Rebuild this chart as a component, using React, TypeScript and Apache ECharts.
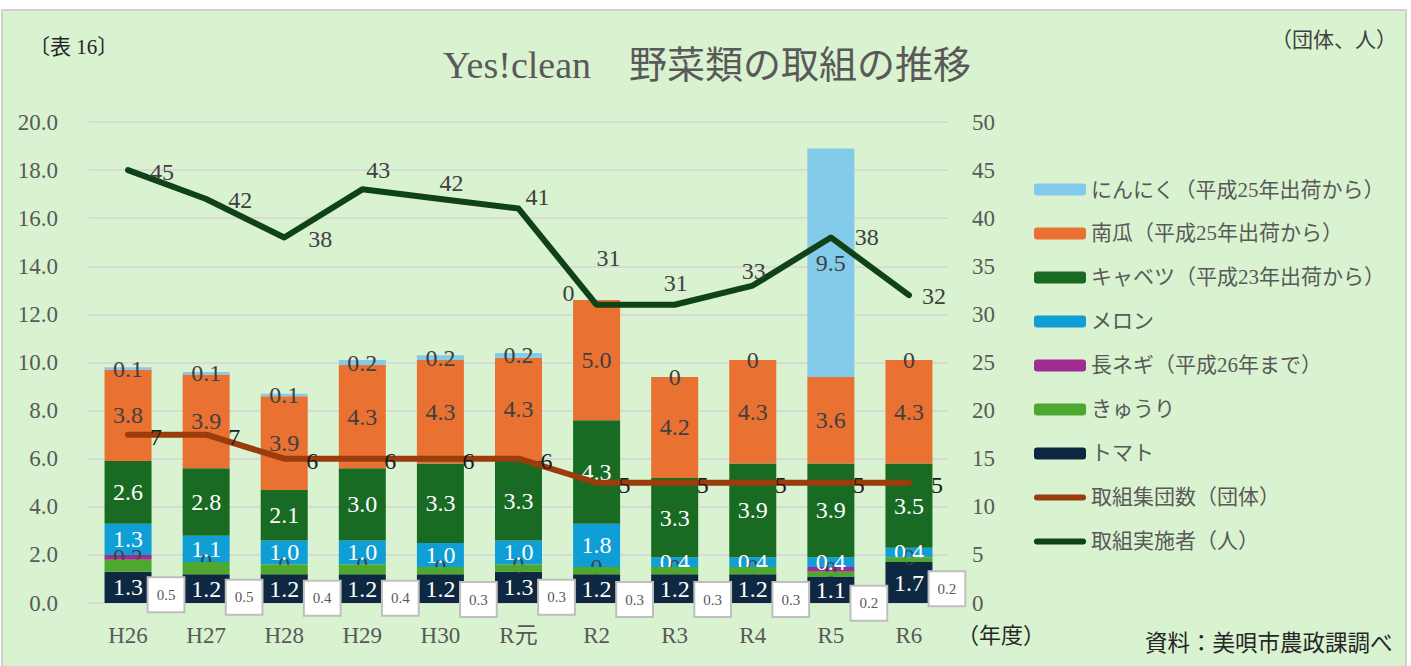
import React, { useEffect, useRef } from "react";
import * as echarts from "echarts";

const categories = ["H26", "H27", "H28", "H29", "H30", "R元", "R2", "R3", "R4", "R5", "R6"];
const tomato = [1.3, 1.2, 1.2, 1.2, 1.2, 1.3, 1.2, 1.2, 1.2, 1.1, 1.7];
const cucumber = [0.5, 0.5, 0.4, 0.4, 0.3, 0.3, 0.3, 0.3, 0.3, 0.2, 0.2];
const negi = [0.2, 0, 0, 0, 0, 0, 0, 0, 0, 0.2, 0];
const melon = [1.3, 1.1, 1.0, 1.0, 1.0, 1.0, 1.8, 0.4, 0.4, 0.4, 0.4];
const cabbage = [2.6, 2.8, 2.1, 3.0, 3.3, 3.3, 4.3, 3.3, 3.9, 3.9, 3.5];
const pumpkin = [3.8, 3.9, 3.9, 4.3, 4.3, 4.3, 5.0, 4.2, 4.3, 3.6, 4.3];
const garlic = [0.1, 0.1, 0.1, 0.2, 0.2, 0.2, 0, 0, 0, 9.5, 0];
const groups = [7, 7, 6, 6, 6, 6, 5, 5, 5, 5, 5];
const people = [45, 42, 38, 43, 42, 41, 31, 31, 33, 38, 32];
const leftTicks = { min: 0, max: 20, interval: 2 };
const rightTicks = { min: 0, max: 50, interval: 5 };

// label placement (style only): offsets of the people-line labels from their points
const peopleLabelOffsets = [
  [34, 2], [34, 1], [36, 2], [16, -19], [11, -16], [19, -12],
  [12, -47], [1, -22], [1, -15], [36, 0], [25, 1],
];

const SERIF = "'Liberation Serif', 'DejaVu Serif', 'Noto Sans CJK JP', serif";
const GRAY = "#595959";
const LINE_ICON = "path://M3,0 L49,0 A3,3 0 0 1 49,6 L3,6 A3,3 0 0 1 3,0 Z";

const fmt = (v: number) => (v === 0 ? "0" : v.toFixed(1));

export default function App() {
  const ref = useRef<HTMLDivElement>(null);
  useEffect(() => {
    if (!ref.current) return;
    const chart = echarts.init(ref.current, undefined, { renderer: "svg" });

    const barSeries = (
      name: string,
      data: any[],
      color: string,
      labelColor: string,
      extra: any = {}
    ) => ({
      name,
      type: "bar",
      stack: "veg",
      barWidth: 47,
      data,
      itemStyle: { color },
      label: {
        show: true,
        position: "inside",
        fontFamily: SERIF,
        fontSize: 24,
        color: labelColor,
        formatter: (p: any) => fmt(p.value),
      },
      z: 2,
      ...extra,
    });

    const negiData: any[] = negi.map((v, i) =>
      i === 9 ? { value: v, label: { formatter: "0" } } : v
    );
    const garlicData: any[] = garlic.map((v, i) =>
      i === 6 ? { value: v, label: { offset: [-28, -7] } } : v
    );
    const peopleData: any[] = people.map((v, i) => ({
      value: v,
      label: { offset: peopleLabelOffsets[i] },
    }));

    const option: any = {
      animation: false,
      textStyle: { fontFamily: SERIF },
      graphic: [
        {
          type: "rect",
          shape: { x: 2, y: 10, width: 1404, height: 680 },
          style: { fill: "#d9f2d0", stroke: "#d0d0d0", lineWidth: 2 },
          z: -10,
        },
        {
          type: "text",
          left: 29,
          top: 36,
          style: { text: "〔表 16〕", font: `21px ${SERIF}`, fill: "#262626" },
        },
        {
          type: "text",
          left: 1271,
          top: 29,
          style: { text: "（団体、人）", font: `21px ${SERIF}`, fill: "#404040" },
        },
        {
          type: "text",
          left: 957,
          top: 624,
          style: { text: "（年度）", font: `22px ${SERIF}`, fill: "#262626" },
        },
        {
          type: "text",
          left: 1145,
          top: 632,
          style: { text: "資料：美唄市農政課調べ", font: `22.5px ${SERIF}`, fill: "#262626" },
        },
      ],
      title: {
        text: "Yes!clean　野菜類の取組の推移",
        left: 702,
        textAlign: "center",
        top: 41,
        textStyle: { fontFamily: SERIF, fontSize: 38, fontWeight: "normal", color: GRAY },
      },
      legend: {
        orient: "vertical",
        left: 1029,
        top: 174,
        itemWidth: 52,
        itemHeight: 12,
        itemGap: 23,
        textStyle: { fontFamily: SERIF, fontSize: 21, color: GRAY },
        data: [
          "にんにく（平成25年出荷から）",
          "南瓜（平成25年出荷から）",
          "キャベツ（平成23年出荷から）",
          "メロン",
          "長ネギ（平成26年まで）",
          "きゅうり",
          "トマト",
          { name: "取組集団数（団体）", icon: LINE_ICON },
          { name: "取組実施者（人）", icon: LINE_ICON },
        ],
      },
      grid: { left: 89, right: 463, top: 122, bottom: 63 },
      xAxis: {
        type: "category",
        data: categories,
        axisLine: { show: false },
        axisTick: { show: false },
        axisLabel: { fontFamily: SERIF, fontSize: 23, color: GRAY, margin: 21 },
      },
      yAxis: [
        {
          type: "value",
          ...leftTicks,
          axisLine: { show: false },
          axisTick: { show: false },
          splitLine: { lineStyle: { color: "#d9d9d9", width: 2 } },
          axisLabel: {
            fontFamily: SERIF,
            fontSize: 23,
            color: GRAY,
            margin: 31,
            formatter: (v: number) => v.toFixed(1),
          },
        },
        {
          type: "value",
          ...rightTicks,
          axisLine: { show: false },
          axisTick: { show: false },
          splitLine: { show: false },
          axisLabel: { fontFamily: SERIF, fontSize: 23, color: GRAY, margin: 24 },
        },
      ],
      series: [
        barSeries("トマト", tomato, "#0e2841", "#ffffff"),
        barSeries("きゅうり", cucumber, "#4ea72e", GRAY, {
          label: {
            show: true,
            position: "inside",
            offset: [38, 29],
            fontFamily: SERIF,
            fontSize: 15,
            color: GRAY,
            backgroundColor: "#ffffff",
            borderColor: "#bfbfbf",
            borderWidth: 2,
            padding: [9, 8],
            formatter: (p: any) => fmt(p.value),
          },
          z: 3,
        }),
        barSeries("長ネギ（平成26年まで）", negiData, "#a02b93", "#404040"),
        barSeries("メロン", melon, "#0f9ed5", "#ffffff"),
        barSeries("キャベツ（平成23年出荷から）", cabbage, "#196b24", "#ffffff"),
        barSeries("南瓜（平成25年出荷から）", pumpkin, "#e97132", "#404040"),
        barSeries("にんにく（平成25年出荷から）", garlicData, "#83cbeb", "#404040"),
        {
          name: "取組集団数（団体）",
          type: "line",
          yAxisIndex: 0,
          data: groups,
          symbol: "circle",
          symbolSize: 1,
          lineStyle: { color: "#9a3c0c", width: 6, cap: "round", join: "round" },
          itemStyle: { color: "#9a3c0c" },
          label: {
            show: true,
            position: "inside",
            offset: [28, 2],
            fontFamily: SERIF,
            fontSize: 24,
            color: "#1a1a1a",
          },
          z: 5,
        },
        {
          name: "取組実施者（人）",
          type: "line",
          yAxisIndex: 1,
          data: peopleData,
          symbol: "circle",
          symbolSize: 1,
          lineStyle: { color: "#0f4216", width: 6, cap: "round", join: "round" },
          itemStyle: { color: "#0f4216" },
          label: {
            show: true,
            position: "inside",
            fontFamily: SERIF,
            fontSize: 24,
            color: "#404040",
          },
          z: 5,
        },
      ],
    };
    chart.setOption(option);
    return () => chart.dispose();
  }, []);

  return (
    <div
      ref={ref}
      style={{ position: "fixed", left: 0, top: 0, width: 1411, height: 666, background: "#ffffff" }}
    />
  );
}
